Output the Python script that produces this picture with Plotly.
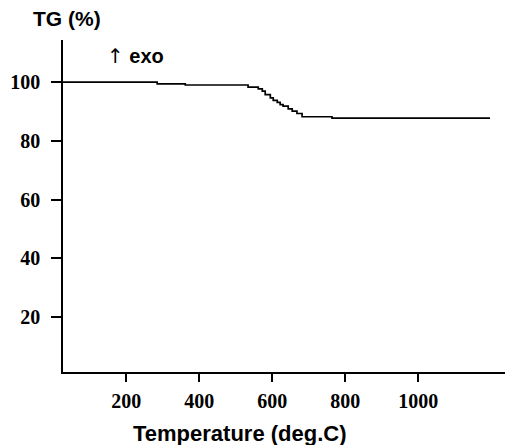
import plotly.graph_objects as go

# TG curve (temperature in deg.C, mass in %)
temperature = [27, 285, 362, 534, 562, 573, 581, 595, 603, 614, 622, 630, 644, 655, 668, 682, 764, 899, 1197]
tg_percent = [100.0, 99.4, 99.0, 98.3, 97.7, 96.9, 95.7, 94.6, 93.8, 93.1, 92.3, 91.8, 90.9, 90.1, 89.3, 88.2, 87.7, 87.7, 87.7]

x_ticks = [200, 400, 600, 800, 1000]
y_ticks = [20, 40, 60, 80, 100]

fig = go.Figure()
fig.add_trace(go.Scatter(
    x=temperature, y=tg_percent, mode="lines", line_shape="hv",
    line=dict(color="black", width=1.7), showlegend=False, hoverinfo="skip",
))

tick_font = dict(family="Liberation Serif", size=20, color="black", weight="bold")
fig.update_layout(
    width=505, height=445,
    margin=dict(l=63, r=0, t=40, b=73),
    paper_bgcolor="white", plot_bgcolor="white",
    xaxis=dict(range=[27, 1238], tickvals=x_ticks, ticktext=[str(v) for v in x_ticks],
               showgrid=False, zeroline=False, showline=True, linecolor="black", linewidth=1.5,
               ticks="outside", ticklen=8, tickwidth=2, tickcolor="black",
               tickfont=tick_font, ticklabelstandoff=2),
    yaxis=dict(range=[1.4, 114.3], tickvals=y_ticks, ticktext=[str(v) for v in y_ticks],
               showgrid=False, zeroline=False, showline=True, linecolor="black", linewidth=1.5,
               ticks="outside", ticklen=10, tickwidth=2, tickcolor="black",
               tickfont=tick_font, ticklabelstandoff=7),
    annotations=[
        dict(text="<b>TG (%)</b>", xref="paper", yref="paper", x=0.009, y=1.066,
             xanchor="center", yanchor="middle", showarrow=False,
             font=dict(family="Liberation Sans", size=21, color="black")),
        dict(text="<span style='font-family:DejaVu Sans;color:#000000'>↑</span> <b>exo</b>",
             xref="paper", yref="paper", x=0.094, y=0.952,
             xanchor="left", yanchor="middle", showarrow=False,
             font=dict(family="Liberation Sans", size=20, color="black")),
        dict(text="<b>Temperature (deg.C)</b>", xref="paper", yref="paper", x=0.4, y=-0.184,
             xanchor="center", yanchor="middle", showarrow=False,
             font=dict(family="Liberation Sans", size=22, color="black")),
    ],
)

fig.write_html("out.html", config={"displayModeBar": False},
               post_script="document.body.style.margin='0';document.body.style.overflow='hidden';")
